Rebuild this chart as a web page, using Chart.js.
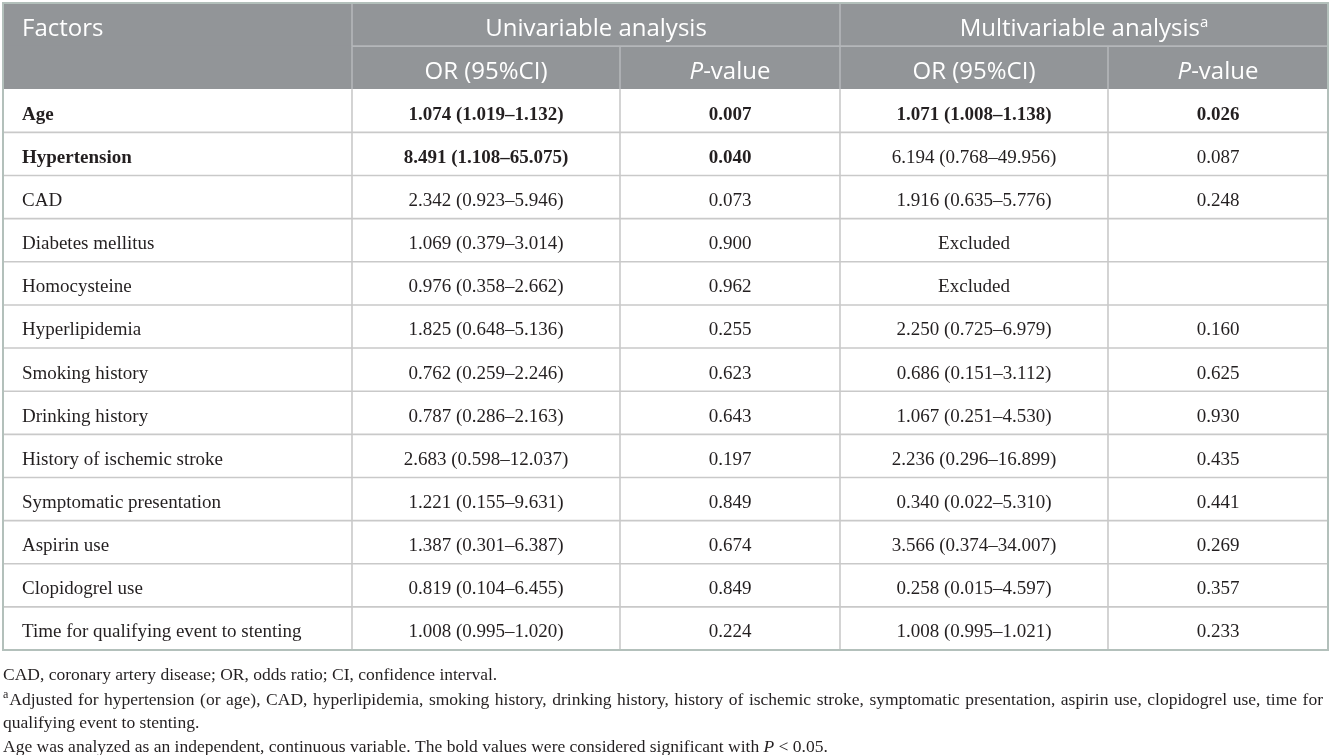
<!DOCTYPE html>
<html><head><meta charset="utf-8">
<script src="https://cdn.jsdelivr.net/npm/chart.js@4.4.0/dist/chart.umd.min.js"></script>
<style>html,body{margin:0;padding:0;background:#fff;}#wrap{width:1333px;height:755px;position:relative;}</style>
</head><body><div id="wrap"><canvas id="c"></canvas></div>
<script>
// ---- data ----
const headerTop = ['Factors', 'Univariable analysis', 'Multivariable analysis'];
const headerSub = ['OR (95%CI)', 'P-value', 'OR (95%CI)', 'P-value'];
const factors = ['Age','Hypertension','CAD','Diabetes mellitus','Homocysteine','Hyperlipidemia','Smoking history','Drinking history','History of ischemic stroke','Symptomatic presentation','Aspirin use','Clopidogrel use','Time for qualifying event to stenting'];
const uniOR = ['1.074 (1.019–1.132)','8.491 (1.108–65.075)','2.342 (0.923–5.946)','1.069 (0.379–3.014)','0.976 (0.358–2.662)','1.825 (0.648–5.136)','0.762 (0.259–2.246)','0.787 (0.286–2.163)','2.683 (0.598–12.037)','1.221 (0.155–9.631)','1.387 (0.301–6.387)','0.819 (0.104–6.455)','1.008 (0.995–1.020)'];
const uniP = ['0.007','0.040','0.073','0.900','0.962','0.255','0.623','0.643','0.197','0.849','0.674','0.849','0.224'];
const multiOR = ['1.071 (1.008–1.138)','6.194 (0.768–49.956)','1.916 (0.635–5.776)','Excluded','Excluded','2.250 (0.725–6.979)','0.686 (0.151–3.112)','1.067 (0.251–4.530)','2.236 (0.296–16.899)','0.340 (0.022–5.310)','3.566 (0.374–34.007)','0.258 (0.015–4.597)','1.008 (0.995–1.021)'];
const multiP = ['0.026','0.087','0.248','','','0.160','0.625','0.930','0.435','0.441','0.269','0.357','0.233'];
const uniBold = [true,true,false,false,false,false,false,false,false,false,false,false,false];
const multiBold = [true,false,false,false,false,false,false,false,false,false,false,false,false];
const footnote1 = 'CAD, coronary artery disease; OR, odds ratio; CI, confidence interval.';
const footnote2 = 'Adjusted for hypertension (or age), CAD, hyperlipidemia, smoking history, drinking history, history of ischemic stroke, symptomatic presentation, aspirin use, clopidogrel use, time for';
const footnote3 = 'qualifying event to stenting.';
const footnote4a = 'Age was analyzed as an independent, continuous variable. The bold values were considered significant with ';
const footnote4b = ' < 0.05.';

// ---- layout / style config ----
const rowLabels = ['header-1', 'header-2'].concat(factors);
const TABLE_W = 1325;
const colEdges = [0, 349, 617, 837, 1105, TABLE_W];
const HEADER_BG = '#929598';
const LINE_BODY = '#c9c9c9';
const LINE_HEAD = '#b4b7ba';
const BORDER = '#b3c0bb';
const SERIF = '"Liberation Serif", "Times New Roman", serif';
const SANS = '"Open Sans", "Noto Sans", sans-serif';
const TEXT = '#231f20';

function drawRich(ctx, segs, x, y, align) {
  let total = 0;
  segs.forEach(s => { ctx.font = s.font; total += ctx.measureText(s.t).width; });
  let cx = align === 'center' ? x - total / 2 : x;
  ctx.textAlign = 'left';
  segs.forEach(s => {
    ctx.font = s.font;
    ctx.fillText(s.t, cx, y + (s.dy || 0));
    cx += ctx.measureText(s.t).width;
  });
  return cx;
}

function drawJustified(ctx, text, font, x0, x1, y) {
  ctx.font = font;
  ctx.textAlign = 'left';
  const words = text.split(' ');
  const wsum = words.reduce((a, w) => a + ctx.measureText(w).width, 0);
  const gap = (x1 - x0 - wsum) / (words.length - 1);
  let cx = x0;
  words.forEach(w => { ctx.fillText(w, cx, y); cx += ctx.measureText(w).width + gap; });
}

const tablePlugin = {
  id: 'tablePlugin',
  afterDatasetsDraw(chart) {
    const ctx = chart.ctx;
    const xs = chart.scales.x, ys = chart.scales.y;
    const X = v => xs.getPixelForValue(v);
    const centers = rowLabels.map((_, i) => ys.getPixelForValue(i));
    const band = centers[1] - centers[0];
    const top = centers[0] - band / 2;
    const bottom = centers[centers.length - 1] + band / 2;
    const edge = i => (centers[i] + centers[i + 1]) / 2;
    ctx.save();
    ctx.lineWidth = 1.6;
    // horizontal lines
    ctx.strokeStyle = LINE_HEAD;
    ctx.beginPath(); ctx.moveTo(X(colEdges[1]), edge(0)); ctx.lineTo(X(TABLE_W), edge(0)); ctx.stroke();
    ctx.strokeStyle = LINE_BODY;
    for (let i = 2; i < rowLabels.length - 1; i++) {
      ctx.beginPath(); ctx.moveTo(X(0), edge(i)); ctx.lineTo(X(TABLE_W), edge(i)); ctx.stroke();
    }
    // vertical lines
    ctx.strokeStyle = LINE_HEAD;
    [1, 3].forEach(c => { ctx.beginPath(); ctx.moveTo(X(colEdges[c]), top); ctx.lineTo(X(colEdges[c]), edge(0)); ctx.stroke(); });
    [1, 2, 3, 4].forEach(c => { ctx.beginPath(); ctx.moveTo(X(colEdges[c]), edge(0)); ctx.lineTo(X(colEdges[c]), edge(1)); ctx.stroke(); });
    ctx.strokeStyle = LINE_BODY;
    [1, 2, 3, 4].forEach(c => { ctx.beginPath(); ctx.moveTo(X(colEdges[c]), edge(1)); ctx.lineTo(X(colEdges[c]), bottom); ctx.stroke(); });
    // outer border
    ctx.strokeStyle = BORDER; ctx.lineWidth = 2;
    ctx.strokeRect(X(0), top, X(TABLE_W) - X(0), bottom - top);

    // header text
    const mid = c => X((colEdges[c] + colEdges[c + 1]) / 2);
    const hFont = '24px ' + SANS, hItal = 'italic 24px ' + SANS;
    ctx.fillStyle = '#ffffff';
    ctx.textBaseline = 'middle';
    const hy1 = centers[0] + 5, hy2 = centers[1] + 4;
    drawRich(ctx, [{t: headerTop[0], font: hFont}], X(19), hy1, 'left');
    drawRich(ctx, [{t: headerTop[1], font: hFont}], X((colEdges[1] + colEdges[3]) / 2), hy1, 'center');
    drawRich(ctx, [{t: headerTop[2], font: hFont}, {t: 'a', font: '15px ' + SANS, dy: -7}], X((colEdges[3] + colEdges[5]) / 2), hy1, 'center');
    headerSub.forEach((h, k) => {
      const segs = h.startsWith('P-') ? [{t: 'P', font: hItal}, {t: h.slice(1), font: hFont}] : [{t: h, font: hFont}];
      drawRich(ctx, segs, mid(k + 1), hy2, 'center');
    });

    // body text
    ctx.fillStyle = TEXT;
    const f = b => (b ? 'bold ' : '') + '19px ' + SERIF;
    factors.forEach((name, i) => {
      const y = centers[i + 2] + 4;
      drawRich(ctx, [{t: name, font: f(uniBold[i] || multiBold[i])}], X(19), y, 'left');
      drawRich(ctx, [{t: uniOR[i], font: f(uniBold[i])}], mid(1), y, 'center');
      drawRich(ctx, [{t: uniP[i], font: f(uniBold[i])}], mid(2), y, 'center');
      drawRich(ctx, [{t: multiOR[i], font: f(multiBold[i])}], mid(3), y, 'center');
      drawRich(ctx, [{t: multiP[i], font: f(multiBold[i])}], mid(4), y, 'center');
    });

    // footnotes
    const fn = '17.5px ' + SERIF, fnI = 'italic 17.5px ' + SERIF;
    const fy0 = bottom + 25, step = 24;
    drawRich(ctx, [{t: footnote1, font: fn}], 3, fy0, 'left');
    const ax = drawRich(ctx, [{t: 'a', font: '12px ' + SERIF, dy: -5}], 3, fy0 + step + 1, 'left');
    drawJustified(ctx, footnote2, fn, ax + 1, X(TABLE_W) - 5, fy0 + step + 1);
    drawRich(ctx, [{t: footnote3, font: fn}], 3, fy0 + step * 2, 'left');
    drawRich(ctx, [{t: footnote4a, font: fn}, {t: 'P', font: fnI}, {t: footnote4b, font: fn}], 3, fy0 + step * 3, 'left');
    ctx.restore();
  }
};

new Chart(document.getElementById('c'), {
  type: 'bar',
  data: {
    labels: rowLabels,
    datasets: [{
      data: rowLabels.map(() => [0, TABLE_W]),
      backgroundColor: rowLabels.map((_, i) => i < 2 ? HEADER_BG : '#ffffff'),
      borderWidth: 0,
      barPercentage: 1.0,
      categoryPercentage: 1.0
    }]
  },
  options: {
    indexAxis: 'y',
    responsive: true,
    maintainAspectRatio: false,
    animation: false,
    events: [],
    layout: { padding: { left: 3, top: 3, right: 5, bottom: 105 } },
    plugins: { legend: { display: false }, tooltip: { enabled: false }, title: { display: false } },
    scales: {
      x: { type: 'linear', min: 0, max: TABLE_W, display: false },
      y: { type: 'category', display: false, offset: true }
    }
  },
  plugins: [tablePlugin]
});
</script></body></html>
